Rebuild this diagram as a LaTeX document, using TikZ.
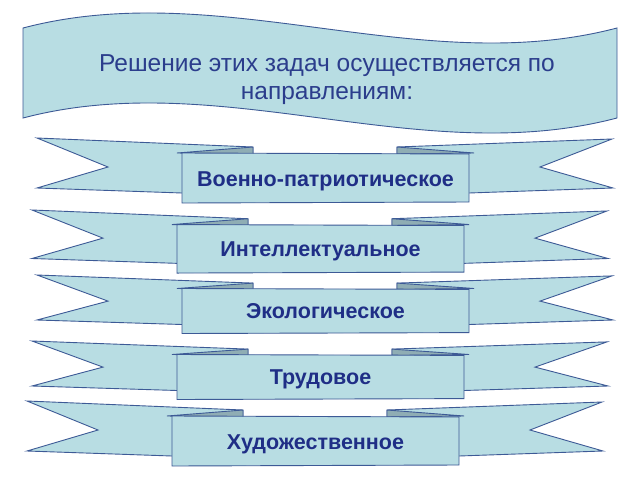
\documentclass[tikz,border=0pt]{standalone}
\usepackage{fontspec}
\setmainfont{Liberation Sans}
\definecolor{rfill}{HTML}{B8DDE3}
\definecolor{rfold}{HTML}{8FADB4}
\definecolor{rline}{HTML}{3D5A96}
\definecolor{rtext}{HTML}{1F2E86}
\definecolor{btext}{HTML}{2B3D8C}
\tikzset{
  part/.style={draw=rline, fill=rfill, line width=0.9pt, line join=miter},
  foldpart/.style={draw=rline, fill=rfold, line width=0.9pt, line join=bevel},
  boxtext/.style={text=rtext, font=\fontsize{21.5}{24}\selectfont\bfseries, anchor=base, inner sep=0pt},
  titletext/.style={text=btext, font=\fontsize{24.5}{28}\selectfont, align=center, inner sep=0pt},
}
% #1 name, #2 x-shift, #3 top y of tails, #4 vertical scale, #5 text
\newcommand\ribbon[5]{%
  \begin{scope}[shift={(#2,#3)}, yscale=#4]
    \draw[part] (37,0) -- (253,9) -- (253,55) -- (182,55) -- (37,50) -- (108,29) -- cycle;
    \draw[part] (612,1) -- (397,9) -- (397,55) -- (469,55) -- (613,50) -- (540,29) -- cycle;
    \draw[foldpart] (177,15) -- (253,9) -- (253,16) -- cycle;
    \draw[foldpart] (474,15) -- (397,9) -- (397,16) -- cycle;
    \draw[part] (182,15) -- (469,16) -- (469,64) -- (182,65) -- cycle;
  \end{scope}
  \node[boxtext] (#1) at (325.5+#2, #3+48*#4) {#5};
}
\begin{document}
\begin{tikzpicture}[x=1pt, y=-1pt]
  \useasboundingbox (0,0) rectangle (640,480);
  \fill[white] (0,0) rectangle (640,480);
  \draw[part] (23,28) .. controls (221,-24) and (419,80) .. (617,28)
     -- (617,118) .. controls (419,170) and (221,66) .. (23,118) -- cycle;
  \node[titletext] (title) at (327,79.8) {Решение этих задач осуществляется по\\направлениям:};
  \ribbon{r1}{0}{138}{1}{Военно-патриотическое}
  \ribbon{r2}{-5}{210}{0.97}{Интеллектуальное}
  \ribbon{r3}{0}{275}{0.9}{Экологическое}
  \ribbon{r4}{-5}{341}{0.9}{Трудовое}
  \ribbon{r5}{-10}{401}{1}{Художественное}
\end{tikzpicture}
\end{document}
